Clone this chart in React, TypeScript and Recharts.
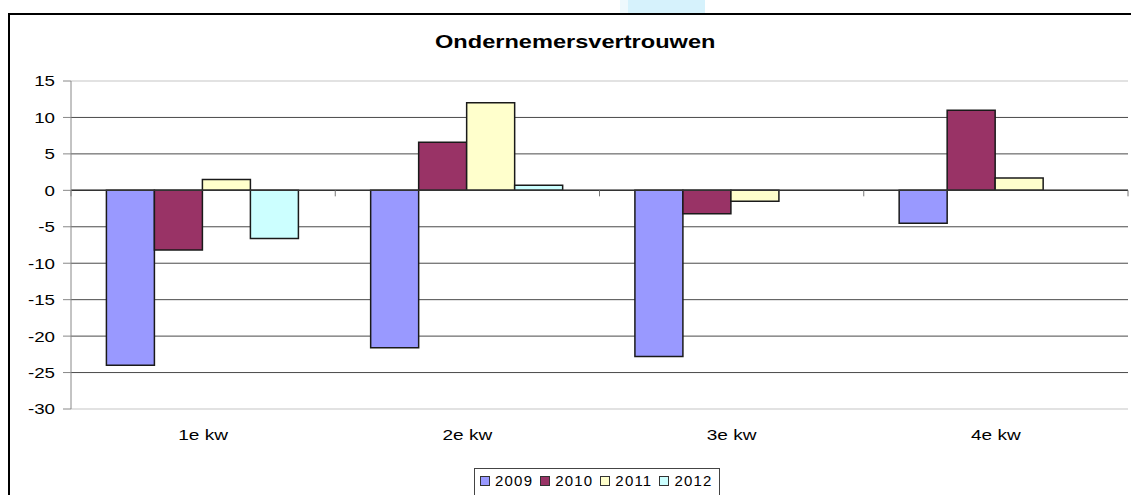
import React from 'react';
import { BarChart, Bar, XAxis, YAxis, CartesianGrid, ReferenceLine, Legend } from 'recharts';

const categories = ['1e kw', '2e kw', '3e kw', '4e kw'];
const years = ['2009', '2010', '2011', '2012'];
const v2009 = [-24, -21.6, -22.8, -4.5];
const v2010 = [-8.2, 6.6, -3.2, 11];
const v2011 = [1.5, 12, -1.5, 1.7];
const v2012: (number | null)[] = [-6.6, 0.7, null, null];
const colors = ['#9999FF', '#993366', '#FFFFCC', '#CCFFFF'];
const yTicks = [15, 10, 5, 0, -5, -10, -15, -20, -25, -30];
const gridValues = [10, 5, 0, -5, -10, -15, -20, -25];
const edgeValues = [15, -30];
const title = 'Ondernemersvertrouwen';

const series = [v2009, v2010, v2011, v2012];
const data = categories.map((c, i) => {
  const row: Record<string, any> = { cat: c };
  years.forEach((y, k) => {
    row[y] = series[k][i];
  });
  return row;
});

const FONT = '"Liberation Sans", Arial, sans-serif';

const YTick = (props: any) => {
  const { x, y, payload } = props;
  return (
    <text
      transform={`translate(${x},${y}) scale(1.25,1)`}
      x={0}
      y={0}
      dy="0.36em"
      textAnchor="end"
      fontSize={15}
      fontFamily={FONT}
      fill="#000"
    >
      {payload.value}
    </text>
  );
};

const XTick = (props: any) => {
  const { x, y, payload } = props;
  return (
    <text
      transform={`translate(${x},${y}) scale(1.27,1)`}
      x={0}
      y={0}
      dy="0.71em"
      textAnchor="middle"
      fontSize={15}
      fontFamily={FONT}
      fill="#000"
    >
      {payload.value}
    </text>
  );
};

const ZeroAxis = (props: any) => {
  const { x1, y1, x2, y2 } = props;
  const n = categories.length;
  const marks = [];
  for (let i = 0; i <= n; i++) {
    const x = x1 + ((x2 - x1) * i) / n;
    marks.push(<line key={i} x1={x} x2={x} y1={y1} y2={y1 + 6} stroke="#777" strokeWidth={1} />);
  }
  return (
    <g>
      <line x1={x1} y1={y1} x2={x2} y2={y2} stroke="#333" strokeWidth={1.5} />
      {marks}
    </g>
  );
};

const LegendContent = () => (
  <div
    style={{
      display: 'flex',
      alignItems: 'center',
      border: '1px solid #444',
      background: '#fff',
      padding: '3px 6px 8px 5px',
      fontFamily: FONT,
      fontSize: 15,
      color: '#000',
      whiteSpace: 'nowrap',
    }}
  >
    {years.map((y, i) => (
      <div key={y} style={{ display: 'flex', alignItems: 'center', marginRight: i < years.length - 1 ? 7 : 0 }}>
        <span
          style={{
            display: 'inline-block',
            width: 8,
            height: 8,
            background: colors[i],
            border: '1px solid #333',
            marginRight: 5,
          }}
        />
        <span style={{ letterSpacing: 1.2 }}>{y}</span>
      </div>
    ))}
  </div>
);

export default function App() {
  return (
    <div style={{ position: 'absolute', left: 0, top: 0, width: 1131, height: 495, overflow: 'hidden', background: '#fff' }}>
      <div style={{ position: 'absolute', left: 628, top: 0, width: 77, height: 13, background: '#d6f2fc' }} />
      <div style={{ position: 'absolute', left: 620, top: 0, width: 8, height: 13, background: '#eef9fd' }} />
      <div
        style={{
          position: 'absolute',
          left: 8,
          top: 13,
          width: 1200,
          height: 600,
          border: '2px solid #000',
          boxSizing: 'border-box',
        }}
      />
      <div
        style={{
          position: 'absolute',
          left: 435,
          top: 32,
          fontFamily: FONT,
          fontWeight: 'bold',
          fontSize: 18,
          lineHeight: '20px',
          color: '#000',
          transform: 'scaleX(1.31)',
          transformOrigin: 'left center',
          whiteSpace: 'nowrap',
        }}
      >
        {title}
      </div>
      <BarChart
        width={1131}
        height={495}
        data={data}
        margin={{ top: 81, right: 3, bottom: 26, left: 0 }}
        barCategoryGap="13.4%"
        barGap={0}
        style={{ position: 'absolute', left: 0, top: 0 }}
      >
        <CartesianGrid vertical={false} stroke="#4a4a4a" horizontalValues={gridValues} />
        {edgeValues.map((v) => (
          <ReferenceLine key={v} y={v} stroke="#d9d9d9" strokeWidth={1.5} />
        ))}
        <XAxis
          dataKey="cat"
          height={60}
          axisLine={false}
          tickLine={false}
          tickSize={0}
          tickMargin={20}
          tick={<XTick />}
          interval={0}
        />
        <YAxis
          type="number"
          domain={[-30, 15]}
          ticks={yTicks}
          interval={0}
          width={71}
          stroke="#888"
          tickLine={{ stroke: '#888' }}
          tickSize={8}
          tickMargin={8}
          tick={<YTick />}
        />
        {years.map((y, i) => (
          <Bar key={y} dataKey={y} fill={colors[i]} stroke="#1a1a1a" strokeWidth={1.5} isAnimationActive={false} />
        ))}
        <ReferenceLine y={0} shape={<ZeroAxis />} />
        <Legend
          layout="horizontal"
          verticalAlign="middle"
          align="center"
          content={<LegendContent />}
          wrapperStyle={{ position: 'absolute', left: 474, top: 468, width: 'auto', height: 'auto' }}
        />
      </BarChart>
    </div>
  );
}
